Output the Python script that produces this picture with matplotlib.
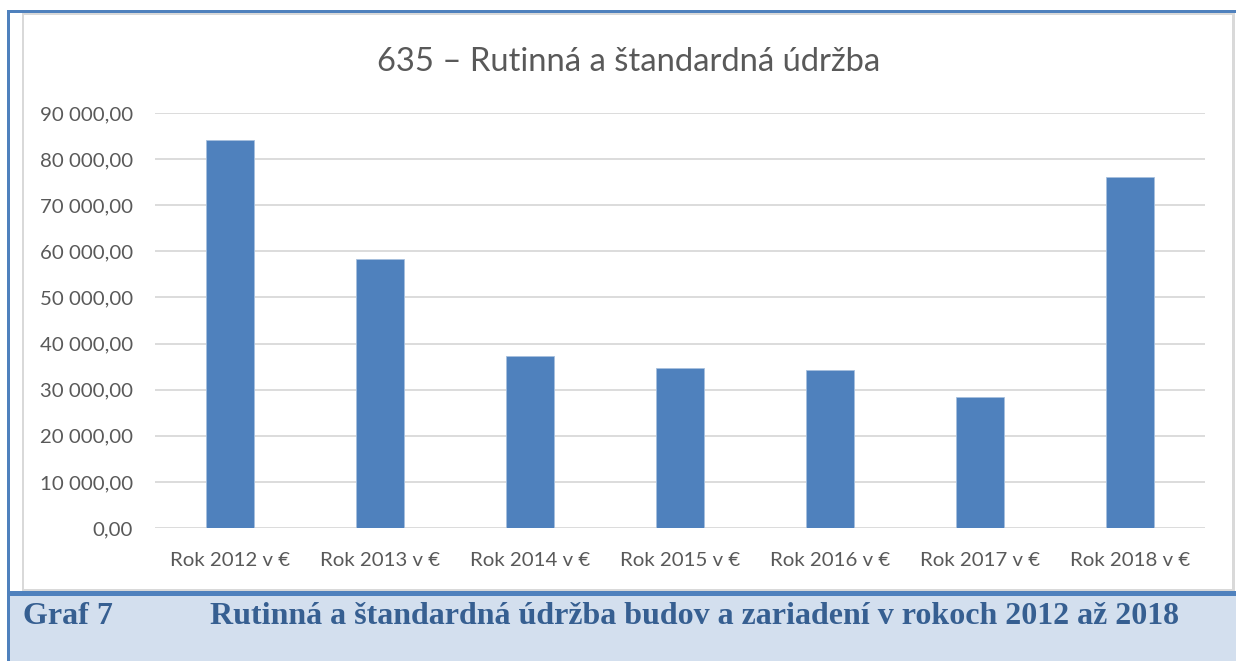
import matplotlib
matplotlib.use("Agg")
import matplotlib.pyplot as plt
from matplotlib.patches import Rectangle
from matplotlib.ticker import FuncFormatter

# Data
categories = ["Rok 2012 v €", "Rok 2013 v €", "Rok 2014 v €", "Rok 2015 v €",
              "Rok 2016 v €", "Rok 2017 v €", "Rok 2018 v €"]
values = [84250, 58400, 37350, 34780, 34280, 28410, 76150]
y_ticks = [0, 10000, 20000, 30000, 40000, 50000, 60000, 70000, 80000, 90000]

title = "635 – Rutinná a štandardná údržba"
caption_label = "Graf 7"
caption_text = "Rutinná a štandardná údržba budov a zariadení v rokoch 2012 až 2018"

W, H = 1236, 661
BLUE = "#4F81BD"
GRAY_TEXT = "#595959"
GRID = "#D9D9D9"
BAND = "#D3DFEE"
CAPTION = "#365F91"


def px_rect(x0, y0, x1, y1, color, z=0):
    # rectangle given in image pixels (y downwards)
    return Rectangle((x0 / W, 1 - y1 / H), (x1 - x0) / W, (y1 - y0) / H,
                     transform=fig.transFigure, facecolor=color,
                     edgecolor="none", zorder=z)


def fmt(v, pos):
    s = f"{v:,.2f}"
    return s.replace(",", " ").replace(".", ",")


fig = plt.figure(figsize=(W / 100, H / 100), dpi=100)
fig.patch.set_facecolor("white")

# frame and caption band
fig.add_artist(px_rect(22, 13, 1235, 591, GRID, z=0))
fig.add_artist(px_rect(24, 15, 1232, 589, "white", z=0))
fig.add_artist(px_rect(7, 591, W, 596, BLUE, z=1))
fig.add_artist(px_rect(10, 596, W, H, BAND, z=1))
fig.add_artist(px_rect(7, 10, W, 13, BLUE, z=1))
fig.add_artist(px_rect(7, 10, 10, H, BLUE, z=1))

ax = fig.add_axes([155 / W, 1 - 528 / H, 1050 / W, 415 / H])
ax.set_facecolor("none")
x = range(len(categories))
ax.bar(x, values, width=0.32, color=BLUE, edgecolor="#A7C0DE", linewidth=0.6, zorder=3)

ax.set_xlim(-0.5, len(categories) - 0.5)
ax.set_ylim(0, 90000)
ax.set_yticks(y_ticks)
ax.yaxis.set_major_formatter(FuncFormatter(fmt))
ax.set_xticks(list(x))
ax.set_xticklabels(categories)
ax.grid(axis="y", color=GRID, linewidth=1.3, zorder=0)
ax.set_axisbelow(True)
for s in ax.spines.values():
    s.set_visible(False)
ax.tick_params(axis="both", length=0, colors=GRAY_TEXT, labelsize=14.7)
ax.tick_params(axis="y", pad=16)
ax.tick_params(axis="x", pad=17)
for lbl in ax.get_xticklabels() + ax.get_yticklabels():
    lbl.set_family("Lato")

fig.text(629 / W, 1 - 62 / H, title, ha="center", va="center",
         fontsize=23.6, color=GRAY_TEXT, family="Lato")

fig.text(23 / W, 1 - 617 / H, caption_label, ha="left", va="center",
         fontsize=23, fontweight="bold", color=CAPTION, family="Liberation Serif",
         zorder=5)
fig.text(210 / W, 1 - 617 / H, caption_text, ha="left", va="center",
         fontsize=23, fontweight="bold", color=CAPTION, family="Liberation Serif",
         zorder=5)

fig.savefig("out.png", dpi=100)
